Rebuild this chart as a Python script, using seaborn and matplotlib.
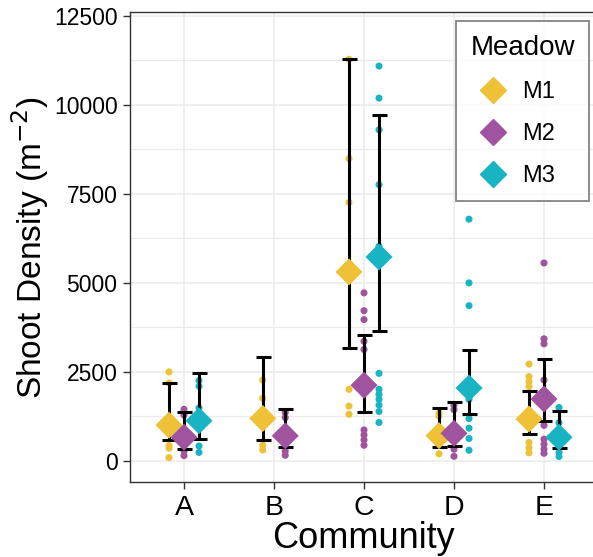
import numpy as np
import pandas as pd
import matplotlib
matplotlib.use("Agg")
import matplotlib.pyplot as plt
from matplotlib.lines import Line2D
import seaborn as sns

# ---------------- data ----------------
communities = ["A", "B", "C", "D", "E"]
meadows = ["M1", "M2", "M3"]
palette = {"M1": "#EFC136", "M2": "#A0539F", "M3": "#18B4C3"}

# raw observations (shoots per m^2)
pts_A_M1 = [2500, 2190, 430, 360, 95]
pts_A_M2 = [1450, 1290, 420, 280, 150]
pts_A_M3 = [2260, 2100, 1490, 420, 240]
pts_B_M1 = [2270, 1760, 440, 310]
pts_B_M2 = [1360, 1220, 280, 160]
pts_C_M1 = [11280, 8490, 7260, 2010, 1540, 1310]
pts_C_M2 = [4720, 4220, 3970, 3360, 3130, 870, 730, 590, 440]
pts_C_M3 = [11090, 10190, 9300, 7760, 6030, 2460, 2010, 1870, 1730, 1570, 1390, 1080]
pts_D_M1 = [1340, 1260, 200]
pts_D_M2 = [1560, 1440, 330, 130]
pts_D_M3 = [6790, 5000, 4360, 1730, 1190, 920, 630, 300]
pts_E_M1 = [2720, 2370, 2230, 2090, 520, 370, 230]
pts_E_M2 = [5560, 3430, 3290, 2270, 1000, 610, 470, 330, 215]
pts_E_M3 = [1500, 1070, 240, 125]

# summary: mean and interval bounds
sum_community = ["A", "A", "A", "B", "B", "C", "C", "C", "D", "D", "D", "E", "E", "E"]
sum_meadow = ["M1", "M2", "M3", "M1", "M2", "M1", "M2", "M3", "M1", "M2", "M3", "M1", "M2", "M3"]
sum_mean = [1005, 665, 1130, 1192, 705, 5309, 2126, 5729, 710, 776, 2048, 1178, 1739, 665]
sum_low = [575, 347, 608, 585, 398, 3178, 1365, 3663, 388, 430, 1309, 762, 1117, 356]
sum_high = [2175, 1365, 2458, 2926, 1458, 11279, 3523, 9710, 1477, 1650, 3120, 1962, 2875, 1415]

raw_lists = {
    ("A", "M1"): pts_A_M1, ("A", "M2"): pts_A_M2, ("A", "M3"): pts_A_M3,
    ("B", "M1"): pts_B_M1, ("B", "M2"): pts_B_M2,
    ("C", "M1"): pts_C_M1, ("C", "M2"): pts_C_M2, ("C", "M3"): pts_C_M3,
    ("D", "M1"): pts_D_M1, ("D", "M2"): pts_D_M2, ("D", "M3"): pts_D_M3,
    ("E", "M1"): pts_E_M1, ("E", "M2"): pts_E_M2, ("E", "M3"): pts_E_M3,
}

summ = pd.DataFrame({"Community": sum_community, "Meadow": sum_meadow,
                     "mean": sum_mean, "low": sum_low, "high": sum_high})

# dodge positions (width 0.5 shared among meadows present in each community)
dodge_w = 0.5
xpos = {}
for ci, c in enumerate(communities):
    present = [m for m in meadows if ((summ.Community == c) & (summ.Meadow == m)).any()]
    n = len(present)
    for i, m in enumerate(present):
        xpos[(c, m)] = ci + (i - (n - 1) / 2) * dodge_w / n
summ["x"] = [xpos[(c, m)] for c, m in zip(summ.Community, summ.Meadow)]

rows = []
for (c, m), vals in raw_lists.items():
    for v in vals:
        rows.append({"Community": c, "Meadow": m, "density": v, "x": xpos[(c, m)]})
raw = pd.DataFrame(rows)

# ---------------- plot ----------------
sns.set_theme(style="white")
plt.rcParams["font.family"] = ["Liberation Sans", "DejaVu Sans"]

W, H = 593, 557
fig = plt.figure(figsize=(W / 100, H / 100), dpi=100)
left, right, top, bottom = 130, 598, 12.3, 482.3
ax = fig.add_axes([left / W, 1 - bottom / H, (right - left) / W, (bottom - top) / H])

grid_c = "#EBEBEB"
ax.set_ylim(-600, 12600)
ax.set_xlim(-0.6, len(communities) - 0.4)
ax.set_yticks([0, 2500, 5000, 7500, 10000, 12500])
ax.set_yticks([1250, 3750, 6250, 8750, 11250], minor=True)
ax.set_xticks(range(len(communities)))
ax.set_xticklabels(communities)
ax.grid(which="major", axis="both", color=grid_c, linewidth=1.1, zorder=0)
ax.grid(which="minor", axis="y", color=grid_c, linewidth=0.9, zorder=0)
ax.set_axisbelow(True)

sns.scatterplot(data=raw, x="x", y="density", hue="Meadow", palette=palette,
                s=26, linewidth=0, legend=False, ax=ax, zorder=2)

for _, r in summ.iterrows():
    ax.errorbar(r["x"], r["mean"], yerr=[[r["mean"] - r["low"]], [r["high"] - r["mean"]]],
                fmt="none", ecolor="black", elinewidth=2.2, capsize=5.4, capthick=2.2, zorder=3)

sns.scatterplot(data=summ, x="x", y="mean", hue="Meadow", palette=palette, marker="D",
                s=190, linewidth=0, legend=False, ax=ax, zorder=4)

for s in ["left", "bottom", "top"]:
    ax.spines[s].set_color("#333333")
    ax.spines[s].set_linewidth(1.0)
ax.spines["right"].set_visible(False)

ax.tick_params(axis="y", which="major", length=5, width=1.0, color="#333333",
               labelsize=16.5, labelcolor="black", pad=4, left=True)
ax.tick_params(axis="x", which="major", length=5, width=1.0, color="#333333",
               labelsize=20.5, labelcolor="black", pad=4, bottom=True)
ax.tick_params(which="minor", length=0)

ax.set_xlabel("Community", fontsize=26, color="black", labelpad=0)
ax.set_ylabel("Shoot Density (m$^{-2}$)", fontsize=24, color="black", labelpad=2)

handles = [Line2D([], [], marker="D", color=palette[m], linestyle="", markersize=13.7)
           for m in meadows]
leg = ax.legend(handles, meadows, title="Meadow", loc="upper right",
                bbox_to_anchor=(589.3 / W, 1 - 20.7 / H), bbox_transform=fig.transFigure,
                borderaxespad=0, frameon=True, fancybox=False, fontsize=17,
                title_fontsize=20, labelspacing=0.85, handletextpad=0.3,
                borderpad=0.6, handlelength=1.9)
leg.get_frame().set_edgecolor("#666666")
leg.get_frame().set_linewidth(1.3)
leg._legend_box.align = "left"
leg.get_title().set_color("black")
for t in leg.get_texts():
    t.set_color("black")

fig.savefig("out.png", dpi=100)
